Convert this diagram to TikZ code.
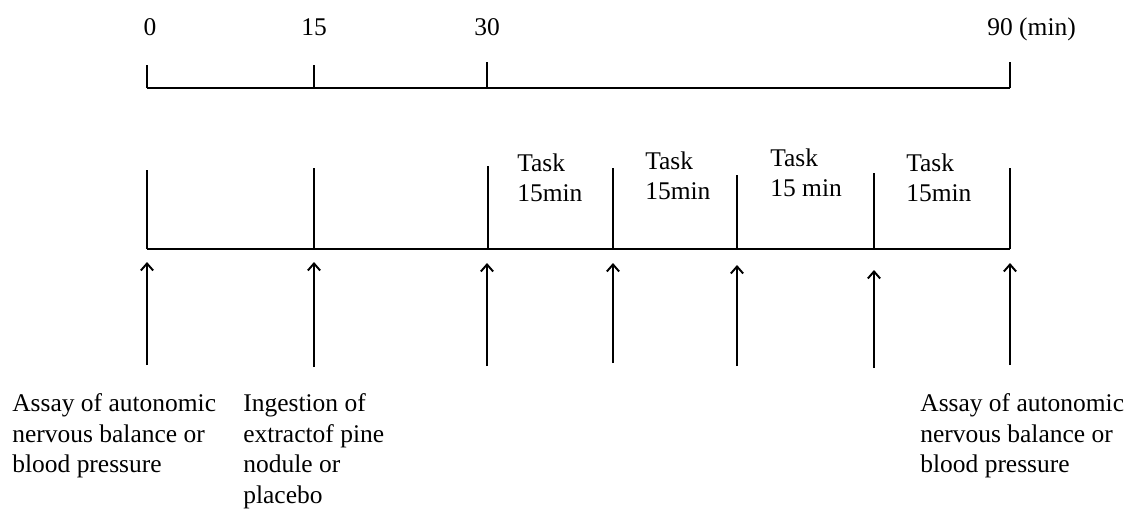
\documentclass[tikz,border=0pt]{standalone}
\usepackage{fontspec}
\setmainfont{Liberation Serif}
\usetikzlibrary{positioning,arrows.meta}

\tikzset{
  axis/.style={line width=1.6pt},
  tick/.style={line width=1.6pt},
  uparrow/.style={-{Straight Barb[length=4pt,width=7pt]},line width=1.1pt},
  lbl/.style={inner sep=0pt,font=\fontsize{14.5}{17.5}\selectfont},
  note/.style={lbl,align=left,anchor=north west}
}

\begin{document}
\begin{tikzpicture}[x=0.02cm,y=-0.02cm]
        \useasboundingbox (0,0) rectangle (1133,508);
        \path
        % top time axis
        (147,88)   coordinate (t0)   (147,65)   coordinate (u0)
        (314,88)   coordinate (t15)  (314,65)   coordinate (u15)
        (487,88)   coordinate (t30)  (487,62)   coordinate (u30)
        (1010,88)  coordinate (t90)  (1010,62)  coordinate (u90)
        % task axis
        (147,249)  coordinate (s0)   (147,170)  coordinate (v0)
        (314,249)  coordinate (s15)  (314,168)  coordinate (v15)
        (488,249)  coordinate (s30)  (488,166)  coordinate (v30)
        (613,249)  coordinate (s45)  (613,168)  coordinate (v45)
        (737,249)  coordinate (s60)  (737,175)  coordinate (v60)
        (874,249)  coordinate (s75)  (874,173)  coordinate (v75)
        (1010,249) coordinate (s90)  (1010,168) coordinate (v90);

        \node[lbl,anchor=base] (l0) at (150,35) {0};
        \node[lbl,anchor=base] (l15) at (314,35) {15};
        \node[lbl,anchor=base] (l30) at (487,35) {30};
        \node[lbl,anchor=base west] (l90) at (987,35) {90 (min)};

        \draw[axis] (t0)--(t90);
        \draw[tick] (t0)--(u0);
        \draw[tick] (t15)--(u15);
        \draw[tick] (t30)--(u30);
        \draw[tick] (t90)--(u90);

        \draw[axis] (s0)--(s90);
        \draw[tick] (s0)--(v0);
        \draw[tick] (s15)--(v15);
        \draw[tick] (s30)--(v30);
        \draw[tick] (s45)--(v45);
        \draw[tick] (s60)--(v60);
        \draw[tick] (s75)--(v75);
        \draw[tick] (s90)--(v90);

        \node[note] (task1) at (517,153) {Task\\15min};
        \node[note] (task2) at (645,151) {Task\\15min};
        \node[note] (task3) at (770,148) {Task\\15 min};
        \node[note] (task4) at (906,153) {Task\\15min};

        % measurement arrows
        \path
        (147,365)  coordinate (a0)   (147,262)  coordinate (h0)
        (314,367)  coordinate (a15)  (314,262)  coordinate (h15)
        (487,366)  coordinate (a30)  (487,263)  coordinate (h30)
        (613,363)  coordinate (a45)  (613,263)  coordinate (h45)
        (737,366)  coordinate (a60)  (737,265)  coordinate (h60)
        (874,368)  coordinate (a75)  (874,270)  coordinate (h75)
        (1010,365) coordinate (a90)  (1010,263) coordinate (h90);
        \draw[uparrow] (a0)--(h0);
        \draw[uparrow] (a15)--(h15);
        \draw[uparrow] (a30)--(h30);
        \draw[uparrow] (a45)--(h45);
        \draw[uparrow] (a60)--(h60);
        \draw[uparrow] (a75)--(h75);
        \draw[uparrow] (a90)--(h90);

        \node[note] (assay1) at (12,393) {Assay of autonomic\\nervous balance or\\blood pressure};
        \node[note] (ingest) at (243,393) {Ingestion of\\extractof pine\\nodule or\\placebo};
        \node[note] (assay2) at (920,393) {Assay of autonomic\\nervous balance or\\blood pressure};
    \end{tikzpicture}
\end{document}
